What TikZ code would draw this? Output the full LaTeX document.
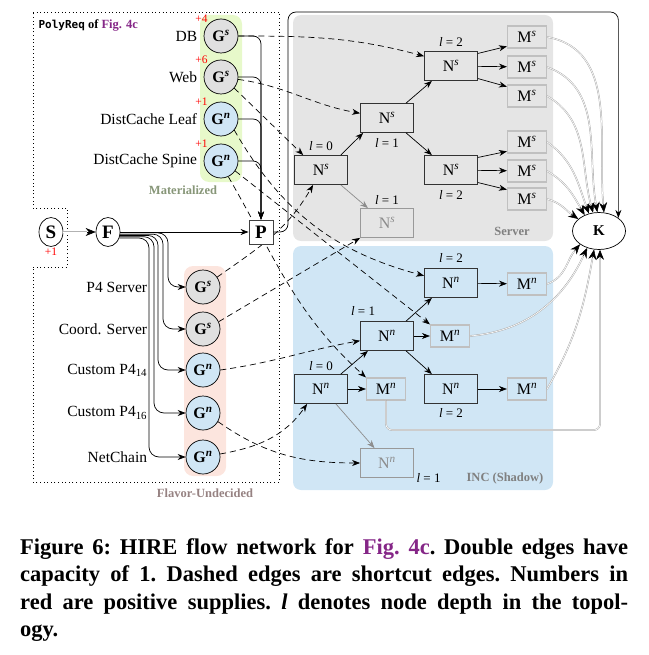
\documentclass[tikz,border=0pt]{standalone}
\usepackage{fontspec}
\setmainfont{Liberation Serif}
\newfontfamily\reqmono{DejaVu Sans Mono}[Scale=0.88]
\usepackage{xcolor}
\usepackage{tikz}
\usetikzlibrary{positioning, arrows.meta, calc, shapes.geometric}

\definecolor{srvgray}{RGB}{229,229,229}
\definecolor{gsgray}{RGB}{224,224,224}
\definecolor{incblue}{RGB}{208,230,245}
\definecolor{matgreen}{RGB}{231,249,202}
\definecolor{flavpink}{RGB}{252,229,222}
\definecolor{figpurple}{RGB}{133,38,135}
\definecolor{boxgray}{RGB}{192,192,192}
\definecolor{tagolive}{RGB}{135,150,120}
\definecolor{tagrose}{RGB}{150,130,130}
\definecolor{taggray}{RGB}{128,128,128}

\pgfdeclarelayer{regions}
\pgfdeclarelayer{shortcuts}
\pgfsetlayers{regions,shortcuts,main}

\begin{document}
\begin{tikzpicture}[
    x=1pt, y=-1pt,
    gnode/.style={circle, draw, line width=0.7pt, minimum size=34pt, inner sep=0pt, font=\fontsize{16}{18}\selectfont\bfseries},
    gsrv/.style={gnode, fill=gsgray},
    ginc/.style={gnode, fill=incblue},
    endpt/.style={ellipse, draw, line width=0.7pt, fill=white, minimum width=24pt, minimum height=29pt, inner sep=0pt, font=\fontsize{19}{20}\selectfont\bfseries},
    poolbox/.style={rectangle, draw=black!75, line width=0.9pt, fill=white, minimum size=24pt, inner sep=0pt, font=\fontsize{19}{20}\selectfont\bfseries},
    sinknode/.style={ellipse, draw, line width=0.7pt, fill=white, minimum width=53pt, minimum height=37pt, font=\fontsize{15}{16}\selectfont\bfseries},
    nbox/.style={rectangle, draw=black!80, line width=0.8pt, minimum width=53pt, minimum height=29pt, inner sep=0pt, font=\fontsize{16}{18}\selectfont},
    nsrv/.style={nbox, fill=srvgray},
    ninc/.style={nbox, fill=incblue},
    nghost/.style={draw=black!40, text=black!45},
    mbox/.style={rectangle, draw=boxgray, line width=1.1pt, minimum width=39pt, minimum height=22pt, inner sep=0pt, font=\fontsize{16}{18}\selectfont},
    msrv/.style={mbox, fill=srvgray},
    minc/.style={mbox, fill=incblue},
    depth/.style={inner sep=1.5pt, font=\fontsize{13}{14}\selectfont},
    prog/.style={font=\fontsize{15.5}{18}\selectfont},
    supply/.style={text=red, inner sep=1pt, font=\fontsize{11.5}{12}\selectfont},
    tag/.style={font=\fontsize{12.5}{14}\selectfont\bfseries},
    arrow/.style={-{Stealth[length=8pt, width=6pt]}, line width=0.7pt},
    shortcut/.style={arrow, dash pattern=on 6pt off 4pt},
    dbltip/.style={-{Stealth[length=10pt, width=8pt]}, line width=0.5pt},
    dblline/.style={draw=black!30, double=white, double distance=0.6pt, line width=0.5pt, shorten >=9pt}
]
    \useasboundingbox (0,0) rectangle (648,655);

    \begin{pgfonlayer}{regions}
        \fill [srvgray, rounded corners=8pt] (293,15) rectangle (553,241);
        \fill [incblue, rounded corners=8pt] (293,246) rectangle (553,490);
        \fill [matgreen, rounded corners=9pt] (200,15) rectangle (242,182);
        \fill [flavpink, rounded corners=9pt] (184,266) rectangle (226,476);
        \draw [line width=0.8pt, dash pattern=on 1pt off 2.6pt] (33,12) -- (279,12) -- (279,482) -- (33,482) -- (33,267) -- (67,267) -- (67,208) -- (33,208) -- cycle;
    \end{pgfonlayer}

    \node [tag, anchor=west] (tagreq) at (35,25) {{\reqmono PolyReq} of \textcolor{figpurple}{Fig. 4c}};
    \node [tag, text=tagolive] (tagmat) at (183,190) {Materialized};
    \node [tag, text=tagrose] (tagflav) at (205,493) {Flavor-Undecided};
    \node [tag, text=taggray] (tagsrv) at (512,231) {Server};
    \node [tag, text=taggray] (taginc) at (505,478) {INC (Shadow)};

    \node [gsrv, label={[supply]135:+4}] (db) at (221,36) {G\textsuperscript{\textit{s}}};
    \node [gsrv, label={[supply]135:+6}] (web) at (221,77) {G\textsuperscript{\textit{s}}};
    \node [ginc, label={[supply]135:+1}] (leaf) at (221,119) {G\textsuperscript{\textit{n}}};
    \node [ginc, label={[supply]135:+1}] (spine) at (221,161) {G\textsuperscript{\textit{n}}};
    \node [prog, left=3pt of db] (ldb) {DB};
    \node [prog, left=3pt of web] (lweb) {Web};
    \node [prog, left=3pt of leaf] (lleaf) {DistCache Leaf};
    \node [prog, left=3pt of spine] (lspine) {DistCache Spine};

    \node [endpt, label={[supply]below:+1}] (src) at (51,232) {S};
    \node [endpt] (flav) at (108,232) {F};
    \node [poolbox] (pool) at (261,232) {P};

    \node [gsrv] (psrv) at (203,287) {G\textsuperscript{\textit{s}}};
    \node [gsrv] (coord) at (203,329) {G\textsuperscript{\textit{s}}};
    \node [ginc] (cp414) at (203,370) {G\textsuperscript{\textit{n}}};
    \node [ginc] (cp416) at (203,413) {G\textsuperscript{\textit{n}}};
    \node [ginc] (netchain) at (203,457) {G\textsuperscript{\textit{n}}};
    \node [prog, left=35pt of psrv] (lpsrv) {P4 Server};
    \node [prog, left=35pt of coord] (lcoord) {Coord. Server};
    \node [prog, left=35pt of cp414] (lcp414) {Custom P4\textsubscript{14}};
    \node [prog, left=35pt of cp416] (lcp416) {Custom P4\textsubscript{16}};
    \node [prog, left=35pt of netchain] (lnetchain) {NetChain};

    \node [nsrv] (ns0) at (321,170) {N\textsuperscript{\textit{s}}};
    \node [nsrv] (ns1) at (387,118) {N\textsuperscript{\textit{s}}};
    \node [nsrv] (ns2a) at (451,66) {N\textsuperscript{\textit{s}}};
    \node [nsrv] (ns2b) at (451,170) {N\textsuperscript{\textit{s}}};
    \node [nsrv, nghost] (nsx) at (387,223) {N\textsuperscript{\textit{s}}};
    \foreach \m/\y in {1/37, 2/67, 3/96, 4/142, 5/171, 6/199}
        \node [msrv] (ms\m) at (527,\y) {M\textsuperscript{\textit{s}}};

    \node [ninc] (nn0) at (321,389) {N\textsuperscript{\textit{n}}};
    \node [ninc] (nn1) at (387,336) {N\textsuperscript{\textit{n}}};
    \node [ninc] (nn2a) at (451,283) {N\textsuperscript{\textit{n}}};
    \node [ninc] (nn2b) at (451,389) {N\textsuperscript{\textit{n}}};
    \node [ninc, nghost] (nnx) at (387,463) {N\textsuperscript{\textit{n}}};
    \node [minc] (mn0) at (386,389) {M\textsuperscript{\textit{n}}};
    \node [minc] (mn1) at (450,336) {M\textsuperscript{\textit{n}}};
    \node [minc] (mn2a) at (527,284) {M\textsuperscript{\textit{n}}};
    \node [minc] (mn2b) at (527,389) {M\textsuperscript{\textit{n}}};

    \node [sinknode] (sink) at (599,231) {K};

    \node [depth, above=3pt of ns2a] (dns2a) {\textit{l} = 2};
    \node [depth, below=4pt of ns1] (dns1) {\textit{l} = 1};
    \node [depth, above=3pt of ns0] (dns0) {\textit{l} = 0};
    \node [depth, above=2pt of nsx] (dnsx) {\textit{l} = 1};
    \node [depth, below=4pt of ns2b] (dns2b) {\textit{l} = 2};
    \node [depth, above=4pt of nn2a] (dnn2a) {\textit{l} = 2};
    \node [depth, above=4pt of nn1.north west, xshift=3pt] (dnn1) {\textit{l} = 1};
    \node [depth, above=2pt of nn0] (dnn0) {\textit{l} = 0};
    \node [depth, below=3pt of nn2b] (dnn2b) {\textit{l} = 2};
    \node [depth, right=1pt of nnx.south east] (dnnx) {\textit{l} = 1};

    \coordinate (pk) at (288,12);
    \coordinate (mk) at (600,430);

    \begin{pgfonlayer}{shortcuts}
        \draw [shortcut] (db.east) to[out=0, in=165] (ns2a.160);
        \draw [shortcut] (web.-8) to[out=-8, in=170] (ns1.170);
        \draw [shortcut] (web.-40) -- (ns0.140);
        \draw [shortcut] (leaf.-40) to[out=-60, in=165] (nn2a.165);
        \draw [shortcut] (spine.-35) -- (mn1.north west);
        \draw [shortcut] (spine.-65) to[out=-60, in=138] (mn0.north west);
        \draw [shortcut] (psrv.35) to[out=35, in=-120] (ns0.-118);
        \draw [shortcut] (coord.25) -- (nsx.south west);
        \draw [shortcut] (cp414.east) to[out=8, in=-170] (nn1.-170);
        \draw [shortcut] (cp416.-30) to[out=-35, in=180] (nnx.west);
        \draw [shortcut] (netchain.10) to[out=10, in=-125] (nn0.-133);
    \end{pgfonlayer}

    \draw [dbltip] (src) -- (flav);
    \draw [dblline] (src) -- (flav);
    \draw [arrow] (flav) -- (pool);
    \foreach \g/\a/\x in {psrv/-4/168, coord/-10/163, cp414/-16/158, cp416/-22/154, netchain/-28/149}
        \draw [arrow, rounded corners=10pt] (flav.\a) -| (\x,0 |- \g) -- (\g);
    \foreach \g in {db, web, leaf, spine}
        \draw [arrow, rounded corners=8pt] (\g.east) -| (pool.north);
    \draw [arrow, rounded corners=8pt] (pool.east) -| (pk) -| (sink.34);

    \draw [arrow] (ns0.37) -- (ns1.-148);
    \draw [arrow] (ns1.38) -- (ns2a.-142);
    \draw [arrow] (ns1.-38) -- (ns2b.142);
    \draw [arrow, color=black!45] (ns0.-37) -- (nsx.142);
    \draw [arrow] (ns2a.25) -- (ms1.-155);
    \draw [arrow] (ns2a) -- (ms2);
    \draw [arrow] (ns2a.-25) -- (ms3.155);
    \draw [arrow] (ns2b.25) -- (ms4.-155);
    \draw [arrow] (ns2b) -- (ms5);
    \draw [arrow] (ns2b.-25) -- (ms6.155);

    \draw [arrow] (nn0.37) -- (nn1.-142);
    \draw [arrow] (nn0) -- (mn0);
    \draw [arrow, color=black!45] (nn0.-45) -- (nnx.130);
    \draw [arrow] (nn1.38) -- (nn2a.-142);
    \draw [arrow] (nn1) -- (mn1);
    \draw [arrow] (nn1.-38) -- (nn2b.142);
    \draw [arrow] (nn2a) -- (mn2a);
    \draw [arrow] (nn2b) -- (mn2b);

    \foreach \m/\k/\o/\i in {ms1/75/-10/95, ms2/95/-20/100, ms3/108/-30/105, ms4/120/-35/110, ms5/132/-30/120, ms6/150/-15/145, mn2a/-145/20/-130, mn1/-125/5/-115, mn2b/-105/60/-100} {
        \draw [dbltip] (\m.east) to[out=\o, in=\i] (sink.\k);
        \draw [dblline] (\m.east) to[out=\o, in=\i] (sink.\k);
    }
    \draw [dbltip, rounded corners=6pt] (mn0.south) |- (mk) -- (mk |- sink.south);
    \draw [dblline, rounded corners=6pt] (mn0.south) |- (mk) -- (mk |- sink.south);

    \node [anchor=north west, inner sep=0pt, text width=608pt, align=justify, font=\fontsize{22.5}{27.5}\selectfont\bfseries\frenchspacing] (caption) at (20,538) {Figure 6: HIRE flow network for \textcolor{figpurple}{Fig. 4c}. Double edges have\linebreak capacity of 1. Dashed edges are shortcut edges. Numbers in\linebreak red are positive supplies. \textit{l} denotes node depth in the topol-\linebreak ogy.};
\end{tikzpicture}
\end{document}
